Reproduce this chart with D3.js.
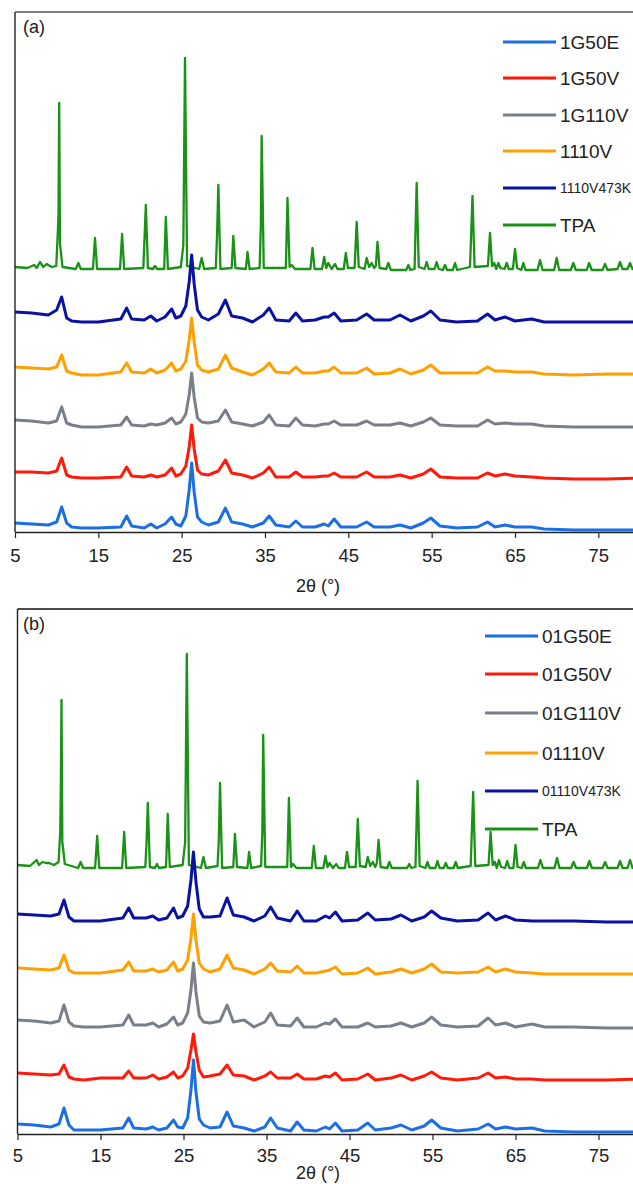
<!DOCTYPE html>
<html>
<head>
<meta charset="utf-8">
<script src="https://cdn.jsdelivr.net/npm/d3@7"></script>
<style>
  body { margin: 0; background: #fff; }
  svg text { font-family: "Liberation Sans", Arial, Helvetica, sans-serif; fill: #222; }
</style>
</head>
<body>
<div id="chart"></div>
<script>
// 2-theta positions of the vertices traced along the broad sample patterns
const theta = [5, 7, 9, 10, 10.6, 11.2, 11.8, 13, 15, 17.7,
  18.4, 19, 20.5, 21.3, 22, 23, 23.8, 24.3, 24.9, 25.5,
  25.9, 26.2, 26.5, 26.9, 27.4, 28.2, 29.4, 30.25, 31, 32.3,
  33.5, 34.8, 35.5, 36.3, 37.9, 38.7, 39.5, 41, 42.1, 42.6,
  43.3, 44.1, 46, 47.2, 48.1, 50, 51.2, 52.5, 54, 54.9,
  56, 58, 60.5, 61.7, 62.6, 63.8, 65, 67, 68.5, 72,
  76, 80];

// panel (a) intensities (a.u., relative to each trace's offset)
const a1G50E = [9, 8, 7, 10, 25, 9, 5, 4, 4, 5,
  16, 6, 4, 8, 4, 8, 15, 8, 6, 16,
  42, 69, 40, 15, 10, 7, 10, 24, 10, 8,
  5, 9, 16, 7, 5, 11, 5, 5, 8, 6,
  13, 5, 5, 10, 5, 5, 7, 4, 9, 14,
  6, 4, 5, 10, 5, 7, 5, 5, 3, 2,
  2, 2];
const a1G50V = [8, 8, 7, 9, 22, 5, 3, 2, 2, 3,
  13, 4, 3, 5, 3, 5, 12, 4, 6, 14,
  33, 55, 31, 10, 6, 5, 9, 20, 7, 5,
  2, 7, 13, 3, 3, 8, 3, 3, 4, 4,
  7, 3, 3, 8, 3, 3, 5, 2, 6, 11,
  3, 2, 2, 7, 4, 6, 4, 3, 2, 1,
  1, 2];
const a1G110V = [8, 7, 5, 7, 21, 5, 3, 1, 1, 3,
  11, 3, 2, 4, 3, 5, 10, 4, 6, 14,
  33, 55, 31, 10, 6, 5, 7, 18, 6, 4,
  2, 6, 13, 3, 2, 10, 3, 2, 4, 4,
  7, 3, 3, 7, 3, 3, 5, 2, 6, 10,
  3, 2, 2, 8, 4, 5, 4, 4, 2, 1,
  1, 1];
const a1110V = [8, 7, 6, 8, 20, 4, 2, 0, 0, 3,
  12, 3, 2, 6, 2, 5, 12, 4, 6, 14,
  35, 57, 33, 10, 5, 3, 6, 20, 7, 3,
  0, 6, 12, 3, 2, 8, 2, 2, 4, 4,
  8, 2, 2, 7, 1, 2, 6, 1, 5, 10,
  2, 2, 2, 8, 4, 4, 3, 3, 1, 0,
  1, 1];
const a1110V473K = [10, 9, 7, 12, 25, 4, 1, 0, 0, 3,
  14, 3, 2, 6, 1, 5, 13, 4, 6, 16,
  40, 67, 38, 12, 5, 2, 8, 22, 6, 4,
  0, 7, 14, 2, 1, 9, 1, 2, 5, 5,
  9, 1, 2, 8, 2, 2, 7, 1, 6, 11,
  2, 0, 1, 8, 2, 5, 1, 3, 0, 0,
  0, 0];

// panel (b) intensities
const b01G50E = [10, 9, 7, 10, 26, 9, 4, 4, 4, 6,
  16, 6, 5, 7, 4, 6, 14, 7, 6, 16,
  44, 74, 42, 15, 9, 6, 7, 22, 8, 6,
  3, 7, 16, 6, 3, 12, 4, 3, 7, 5,
  11, 3, 4, 11, 4, 6, 9, 4, 8, 14,
  6, 3, 5, 10, 5, 7, 5, 6, 3, 2,
  2, 2];
const b01G50V = [7, 6, 5, 6, 15, 3, 1, 0, 2, 2,
  9, 2, 2, 5, 1, 3, 8, 2, 4, 12,
  30, 46, 28, 10, 3, 4, 6, 15, 5, 4,
  0, 4, 8, 2, 2, 6, 1, 1, 4, 3,
  7, 0, 1, 6, 0, 2, 5, 0, 4, 8,
  2, 0, 2, 7, 2, 3, 1, 1, 0, 0,
  0, 1];
const b01G110V = [8, 7, 5, 7, 23, 6, 2, 1, 1, 3,
  13, 3, 3, 5, 1, 4, 11, 3, 5, 15,
  38, 65, 36, 12, 6, 5, 7, 23, 6, 8,
  1, 6, 15, 3, 2, 10, 1, 1, 5, 4,
  9, 1, 1, 5, 1, 2, 5, 1, 5, 11,
  3, 1, 2, 10, 3, 5, 1, 4, 1, 1,
  0, 0];
const b01110V = [6, 5, 4, 6, 19, 4, 1, 1, 1, 4,
  12, 3, 3, 5, 2, 4, 12, 3, 5, 14,
  36, 60, 34, 11, 5, 2, 5, 19, 6, 4,
  0, 5, 11, 3, 2, 8, 1, 1, 3, 4,
  7, 0, 1, 6, 0, 2, 5, 1, 5, 10,
  2, 1, 2, 7, 2, 5, 2, 1, 0, 0,
  0, 0];
const b01110V473K = [8, 7, 6, 8, 22, 5, 1, 1, 1, 4,
  14, 4, 4, 6, 2, 4, 14, 4, 6, 16,
  42, 70, 40, 13, 5, 5, 6, 24, 7, 5,
  1, 6, 15, 4, 1, 11, 1, 1, 6, 4,
  10, 1, 2, 9, 2, 3, 7, 1, 5, 11,
  4, 1, 2, 9, 2, 6, 2, 1, 1, 1,
  0, 0];

// TPA reference pattern: vertex positions, then intensities for (a) and (b)
const tpaTheta = [
  5, 6.5, 7.3, 7.6, 8.0, 8.4, 8.8, 9.4,
  9.95, 10.15, 10.22, 10.3, 10.4, 10.7,
  12.3, 12.6, 12.9, 14.35, 14.6, 14.85,
  17.6, 17.85, 18.1, 20.4, 20.55, 20.7, 20.95,
  21.55, 21.8, 22.05, 22.9, 23.1, 23.35,
  24.9, 25.2, 25.4, 25.65, 27.1, 27.4, 27.7,
  29.1, 29.25, 29.4, 29.65, 31.0, 31.2, 31.45,
  32.7, 32.9, 33.15, 34.35, 34.5, 34.6, 34.85,
  37.5, 37.7, 37.95, 38.2, 38.6,
  40.45, 40.7, 40.95, 41.85, 42.1, 42.35, 42.6, 43.0, 43.4, 43.7,
  44.45, 44.7, 44.95, 45.75, 46.0, 46.25,
  46.95, 47.2, 47.5, 47.8, 48.1, 48.3, 48.5, 48.75,
  49.55, 49.8, 50.1, 51.95, 52.2, 52.45, 52.95, 53.2, 53.45,
  54.15, 54.4, 54.65, 55.35, 55.6, 55.85, 56.35, 56.6, 56.85, 57.55, 57.8, 58.05,
  59.6, 59.9, 60.15, 61.75, 62.0, 62.25, 62.5, 62.75, 63.0, 63.25,
  63.75, 64.0, 64.25, 64.75, 65.0, 65.25, 65.75, 66.0, 66.25,
  67.7, 68.0, 68.3, 69.7, 70.0, 70.3, 71.7, 72.0, 72.3,
  73.6, 73.9, 74.2, 75.5, 75.8, 76.1,
  77.3, 77.6, 77.9, 78.5, 78.8, 79.1, 80];
const tpaA = [
  7, 6, 9, 6, 12, 7, 10, 7,
  8, 44, 60, 171, 30, 7,
  5, 11, 5, 5, 36, 5,
  5, 40, 5, 6, 37, 69, 6,
  5, 8, 5, 5, 57, 5,
  7, 29, 216, 8, 5, 16, 5,
  6, 40, 89, 5, 6, 38, 6,
  5, 22, 5, 6, 47, 138, 6,
  6, 76, 7, 9, 5,
  5, 26, 5, 5, 17, 6, 11, 5, 10, 5,
  5, 21, 6, 6, 52, 7,
  5, 16, 7, 11, 6, 8, 32, 6,
  5, 11, 4, 4, 9, 4, 5, 91, 7,
  5, 12, 5, 5, 12, 5, 4, 9, 4, 4, 11, 4,
  7, 78, 7, 8, 41, 8, 11, 5, 11, 6,
  5, 11, 5, 5, 25, 6, 4, 11, 4,
  4, 14, 4, 4, 16, 4, 4, 11, 4,
  4, 11, 4, 4, 10, 4,
  5, 12, 5, 5, 11, 5, 5];
const tpaB = [
  7, 6, 12, 7, 10, 9, 9, 7,
  10, 40, 85, 172, 30, 8,
  4, 10, 4, 4, 36, 4,
  4, 40, 4, 5, 30, 69, 5,
  4, 8, 4, 5, 58, 5,
  7, 30, 218, 7, 4, 15, 4,
  6, 30, 89, 4, 5, 38, 5,
  4, 20, 4, 6, 40, 137, 5,
  5, 74, 5, 8, 4,
  4, 26, 4, 4, 16, 5, 9, 4, 8, 4,
  4, 20, 5, 5, 53, 6,
  5, 15, 6, 10, 5, 9, 32, 5,
  4, 10, 4, 4, 8, 4, 5, 91, 6,
  4, 10, 4, 4, 11, 4, 4, 9, 4, 4, 10, 4,
  6, 80, 6, 7, 40, 7, 10, 4, 12, 5,
  4, 11, 4, 4, 27, 5, 4, 10, 4,
  4, 12, 4, 4, 14, 4, 4, 10, 4,
  4, 11, 4, 4, 10, 4,
  4, 11, 4, 4, 12, 4, 4];

// vertical stacking offsets (a.u.), bottom trace first
const offsetsA = [0, 52, 104, 157, 210, 258];
const offsetsB = [0, 54, 106, 160, 212, 262];

const namesA = ['1G50E', '1G50V', '1G110V', '1110V', '1110V473K', 'TPA'];
const namesB = ['01G50E', '01G50V', '01G110V', '01110V', '01110V473K', 'TPA'];
const xTicks = [5, 15, 25, 35, 45, 55, 65, 75];

const colors = ['#1c6fe3', '#ff1a0a', '#7a8089', '#ffa000', '#0a12a3', '#199216'];

const W = 633, H = 1184;
const svg = d3.select('#chart').append('svg')
    .attr('width', W)
    .attr('height', H);

function drawPanel(p) {
  const x = d3.scaleLinear().domain([5, 80]).range([p.left, 640]);
  const y = d3.scaleLinear().domain([0, p.top_i]).range([p.bottom, p.top]);

  const g = svg.append('g');

  const traces = [
    { pts: theta.map((t, i) => [t, p.series[0][i]]), off: p.offsets[0], c: colors[0] },
    { pts: theta.map((t, i) => [t, p.series[1][i]]), off: p.offsets[1], c: colors[1] },
    { pts: theta.map((t, i) => [t, p.series[2][i]]), off: p.offsets[2], c: colors[2] },
    { pts: theta.map((t, i) => [t, p.series[3][i]]), off: p.offsets[3], c: colors[3] },
    { pts: theta.map((t, i) => [t, p.series[4][i]]), off: p.offsets[4], c: colors[4] },
    { pts: tpaTheta.map((t, i) => [t, p.tpa[i]]), off: p.offsets[5], c: colors[5], tpa: true }
  ];

  // top trace first so the lower ones sit on top of it
  traces.slice().reverse().forEach(tr => {
    const line = d3.line()
        .x(d => x(d[0]))
        .y(d => y(d[1] + tr.off));
    g.append('path')
        .datum(tr.pts)
        .attr('d', line)
        .attr('fill', 'none')
        .attr('stroke', tr.c)
        .attr('stroke-width', tr.tpa ? 2.3 : 3)
        .attr('stroke-linejoin', 'round');
  });

  // frame: left and top edges, bottom is the axis
  g.append('line')
      .attr('x1', p.left).attr('x2', p.left)
      .attr('y1', p.top).attr('y2', p.bottom)
      .attr('stroke', '#222').attr('stroke-width', 1.4);
  g.append('line')
      .attr('x1', p.left).attr('x2', W)
      .attr('y1', p.top).attr('y2', p.top)
      .attr('stroke', p.topColor).attr('stroke-width', 1.4);

  const ax = g.append('g')
      .attr('transform', `translate(0,${p.bottom})`)
      .call(d3.axisBottom(x).tickValues(xTicks).tickSize(6).tickSizeOuter(0).tickPadding(p.pad));
  ax.select('.domain').attr('stroke', '#222').attr('stroke-width', 1.4);
  ax.selectAll('.tick line').attr('stroke', '#222').attr('stroke-width', 1.2);
  ax.selectAll('.tick text')
      .attr('font-size', 18.5)
      .attr('font-family', '"Liberation Sans", Arial, sans-serif')
      .attr('fill', '#222');

  g.append('text')
      .attr('x', 318).attr('y', p.titleY)
      .attr('text-anchor', 'middle')
      .attr('font-size', 18)
      .text('2θ (°)');

  g.append('text')
      .attr('x', 23).attr('y', p.top + 21)
      .attr('font-size', 18)
      .text(p.label);

  // legend
  p.names.forEach((n, i) => {
    const ly = p.legY[i];
    g.append('line')
        .attr('x1', p.legX).attr('x2', p.legX + 53)
        .attr('y1', ly).attr('y2', ly)
        .attr('stroke', colors[i]).attr('stroke-width', 2.8);
    g.append('text')
        .attr('x', p.legX + 57).attr('y', ly)
        .attr('dy', '0.36em')
        .attr('font-size', i === 4 ? 14 : 19)
        .text(n);
  });
}

drawPanel({
  left: 15, top: 12, bottom: 532, top_i: 520, pad: 11, titleY: 592,
  series: [a1G50E, a1G50V, a1G110V, a1110V, a1110V473K], tpa: tpaA,
  offsets: offsetsA, names: namesA, label: '(a)', topColor: '#555',
  legX: 503, legY: [42, 78, 115, 151, 188, 225]
});

drawPanel({
  left: 17.5, top: 609, bottom: 1134, top_i: 525, pad: 9, titleY: 1179,
  series: [b01G50E, b01G50V, b01G110V, b01110V, b01110V473K], tpa: tpaB,
  offsets: offsetsB, names: namesB, label: '(b)', topColor: '#111',
  legX: 485, legY: [636, 674, 713, 753, 791, 829]
});
</script>
</body>
</html>
